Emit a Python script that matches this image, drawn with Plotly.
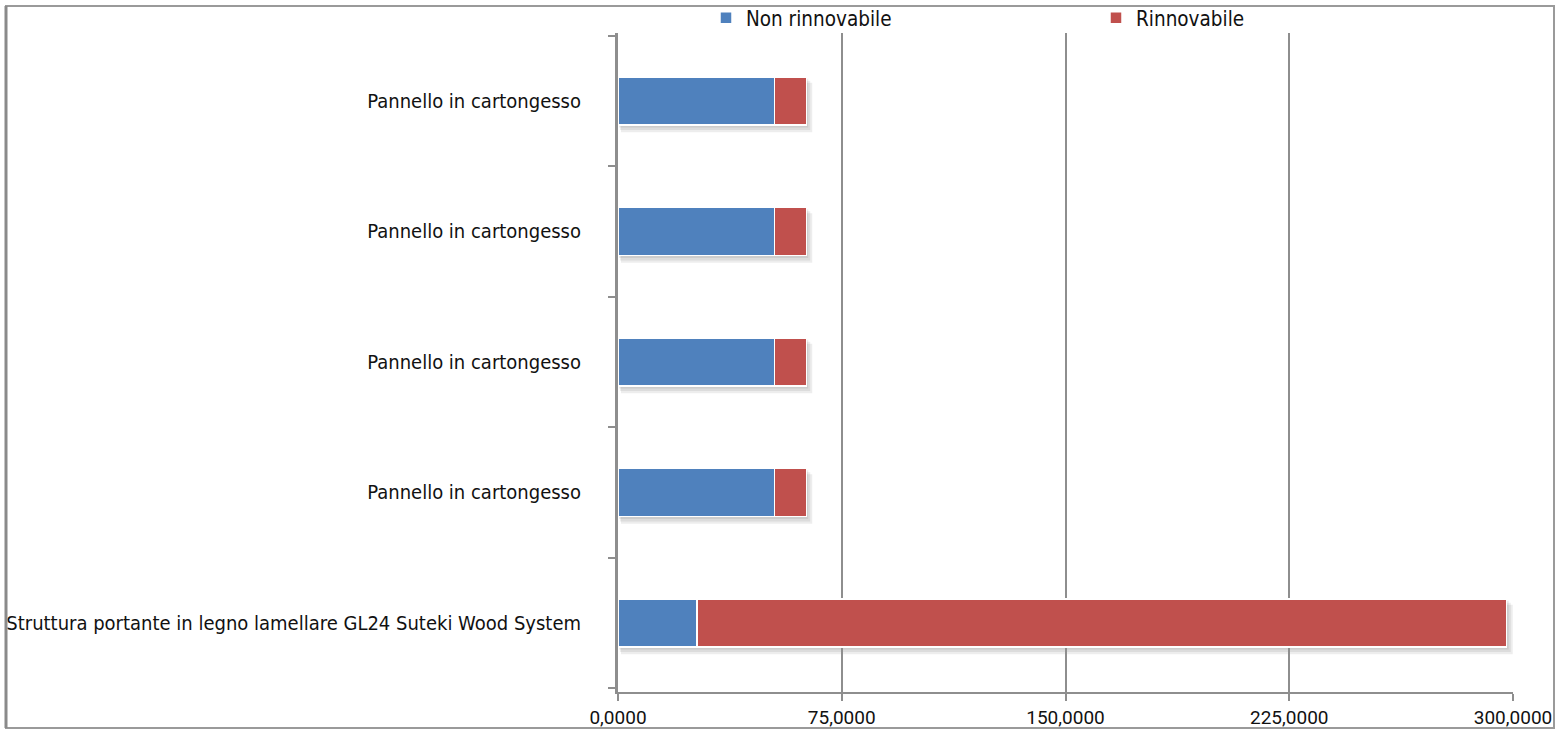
import plotly.graph_objects as go

# Materials, listed bottom to top
categories = [
    "Struttura portante in legno lamellare GL24 Suteki Wood System",
    "Pannello in cartongesso",
    "Pannello in cartongesso",
    "Pannello in cartongesso",
    "Pannello in cartongesso",
]
non_rinnovabile = [26.5, 52.4, 52.4, 52.4, 52.4]
rinnovabile = [271.4, 10.7, 10.7, 10.7, 10.7]
x_ticks = [0, 75, 150, 225, 300]

W, H = 1557, 731
L, R, T, B = 618, 44, 33, 39
PW, PH = W - L - R, H - T - B

def px_x(p):
    return (p - L) / PW

def px_y(p):
    return (H - B - p) / PH

BLUE = "#4F81BD"
RED = "#C0504D"
GRID = "#8E8E8E"
FONT = "DejaVu Sans Condensed, Liberation Sans Narrow, sans-serif"
NUM_FONT = "Roboto, Liberation Sans, sans-serif"

BARGAP = 0.63
Y_RANGE = [-0.529, len(categories) - 0.479]

pos = list(range(len(categories)))

fig = go.Figure()
fig.add_trace(go.Bar(
    y=pos, x=non_rinnovabile, orientation="h", name="Non rinnovabile",
    marker=dict(color=BLUE, line=dict(color="white", width=1.5)),
))
fig.add_trace(go.Bar(
    y=pos, x=rinnovabile, orientation="h", name="Rinnovabile",
    marker=dict(color=RED, line=dict(color="white", width=1.5)),
))

# invisible trace carrying the boundary ticks of the category axis
fig.add_trace(go.Scatter(x=[None], y=[None], yaxis="y2", showlegend=False,
                         hoverinfo="skip"))

# soft drop shadow under each stacked bar
x_per_px = 300 / PW
y_per_px = (Y_RANGE[1] - Y_RANGE[0]) / PH
half = (1 - BARGAP) / 2
shadows = []
for c, a, b in zip(pos, non_rinnovabile, rinnovabile):
    total = a + b
    for k in (2, 4, 6):
        shadows.append(dict(
            type="rect", xref="x", yref="y", layer="below",
            x0=k * 0.5 * x_per_px, x1=total + k * x_per_px,
            y0=c - half - k * y_per_px * 1.2, y1=c + half - k * y_per_px,
            fillcolor="rgba(0,0,0,0.07)", line=dict(width=0),
        ))

fig.update_layout(
    width=W, height=H,
    margin=dict(l=L, r=R, t=T, b=B, pad=0, autoexpand=False),
    paper_bgcolor="white", plot_bgcolor="white",
    barmode="stack", bargap=BARGAP,
    separators=",.",
    font=dict(family=FONT, size=20, color="#111111"),
    showlegend=True,
    legend=dict(
        orientation="h", x=px_x(706), xanchor="left", y=px_y(-2), yanchor="top",
        entrywidth=345, entrywidthmode="pixels",
        font=dict(family=FONT, size=20.5, color="#111111"),
        bgcolor="rgba(0,0,0,0)", traceorder="normal",
    ),
    xaxis=dict(
        range=[0, 300], tickvals=x_ticks, tickformat=".4f",
        showgrid=True, gridcolor=GRID, gridwidth=2,
        showline=True, linecolor=GRID, linewidth=2,
        ticks="outside", ticklen=7, tickcolor=GRID, tickwidth=2,
        tickfont=dict(family=NUM_FONT, size=19, color="#111111"),
        zeroline=False, fixedrange=True, automargin=False,
    ),
    yaxis=dict(
        range=Y_RANGE,
        tickvals=pos, ticktext=categories, ticks="",
        showgrid=False, zeroline=False,
        showline=True, linecolor=GRID, linewidth=3,
        ticklabelstandoff=30, automargin=False,
    ),
    yaxis2=dict(
        overlaying="y", side="left",
        range=Y_RANGE,
        tickvals=[i - 0.5 for i in range(len(categories) + 1)],
        showticklabels=False, ticks="outside", ticklen=9,
        tickcolor=GRID, tickwidth=2, showgrid=False, zeroline=False,
        showline=False, automargin=False,
    ),
    shapes=shadows + [
        dict(type="rect", xref="paper", yref="paper",
             x0=px_x(6), x1=px_x(1554), y0=px_y(728), y1=px_y(6),
             line=dict(color="#9A9A9A", width=2), layer="below"),
        dict(type="line", xref="paper", yref="paper",
             x0=px_x(6), x1=px_x(6), y0=px_y(728), y1=px_y(6),
             line=dict(color="#8A8A8A", width=3)),
    ],
)

fig.write_html("out.html")
